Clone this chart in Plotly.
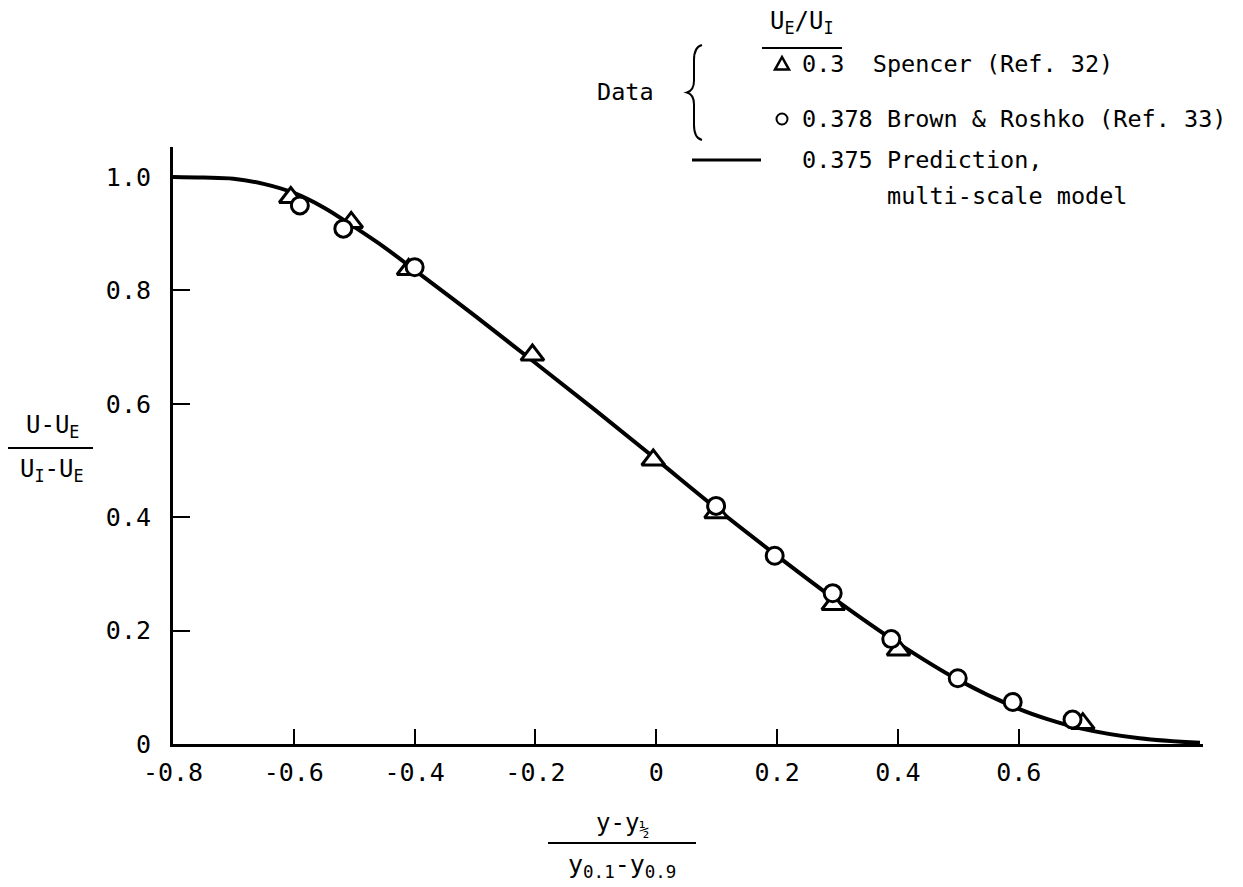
import plotly.graph_objects as go

# ---- data ----
curve_x = [-0.8, -0.75, -0.7, -0.65, -0.6, -0.55, -0.5, -0.45, -0.4, -0.3, -0.2, -0.1,
           0.0, 0.1, 0.2, 0.3, 0.4, 0.5, 0.6, 0.65, 0.7, 0.8, 0.9]
curve_y = [1.0, 0.999, 0.997, 0.988, 0.972, 0.946, 0.912, 0.876, 0.836, 0.755, 0.672, 0.588,
           0.502, 0.415, 0.332, 0.252, 0.178, 0.113, 0.062, 0.043, 0.028, 0.010, 0.002]

spencer_x = [-0.605, -0.505, -0.41, -0.205, -0.005, 0.099, 0.293, 0.401, 0.706]
spencer_y = [0.964, 0.920, 0.837, 0.686, 0.501, 0.408, 0.246, 0.166, 0.036]

brown_x = [-0.59, -0.518, -0.40, 0.099, 0.196, 0.292, 0.389, 0.499, 0.59, 0.689]
brown_y = [0.950, 0.909, 0.841, 0.420, 0.332, 0.266, 0.185, 0.116, 0.074, 0.043]

x_ticks = [-0.8, -0.6, -0.4, -0.2, 0.0, 0.2, 0.4, 0.6]
x_tick_text = ["-0.8", "-0.6", "-0.4", "-0.2", "0", "0.2", "0.4", "0.6"]
y_ticks = [0.0, 0.2, 0.4, 0.6, 0.8, 1.0]
y_tick_text = ["0", "0.2", "0.4", "0.6", "0.8", "1.0"]

# ---- layout geometry (pixels) ----
W, H = 1243, 887
L, R, T, B = 173, 40, 147, 143
PW, PH = W - L - R, H - T - B

def px(x):
    return (x - L) / PW

def py(y):
    return (H - B - y) / PH

FONT = "DejaVu Sans Mono"

fig = go.Figure()
fig.add_trace(go.Scatter(x=curve_x, y=curve_y, mode="lines",
                         line=dict(color="black", width=4, shape="spline", smoothing=1.0),
                         showlegend=False, hoverinfo="skip"))
fig.add_trace(go.Scatter(x=spencer_x, y=spencer_y, mode="markers",
                         marker=dict(symbol="triangle-up", size=20, color="white",
                                     line=dict(color="black", width=3)),
                         showlegend=False, cliponaxis=False))
fig.add_trace(go.Scatter(x=brown_x, y=brown_y, mode="markers",
                         marker=dict(symbol="circle", size=17, color="white",
                                     line=dict(color="black", width=3)),
                         showlegend=False, cliponaxis=False))

ann = []
shapes = []

def text(x, y, s, size=23.5, xanchor="left", yanchor="middle"):
    ann.append(dict(x=px(x), y=py(y), xref="paper", yref="paper", text=s,
                    showarrow=False, xanchor=xanchor, yanchor=yanchor,
                    font=dict(family=FONT, size=size, color="black")))

def hline(x0, x1, y, w=2):
    shapes.append(dict(type="line", xref="paper", yref="paper",
                       x0=px(x0), x1=px(x1), y0=py(y), y1=py(y),
                       line=dict(color="black", width=w)))

# y-axis title (fraction)
text(52, 426, "U-U<sub>E</sub>", size=24, xanchor="center")
hline(8, 93, 448)
text(52, 470, "U<sub>I</sub>-U<sub>E</sub>", size=24, xanchor="center")

# x-axis title (fraction)
text(622, 824, "y-y<sub>½</sub>", size=24, xanchor="center")
hline(548, 696, 843)
text(622, 866, "y<sub>0.1</sub>-y<sub>0.9</sub>", size=25, xanchor="center")

# legend
text(802, 22, "U<sub>E</sub>/U<sub>I</sub>", size=24, xanchor="center")
hline(762, 842, 48)
text(625, 92, "Data", xanchor="center")
# brace
bx, by0, by1 = 694, 45, 140
bm = (by0 + by1) / 2
path = (f"M {px(bx+8)},{py(by0)} Q {px(bx)},{py(by0+2)} {px(bx)},{py(by0+15)} "
        f"L {px(bx)},{py(bm-12)} Q {px(bx)},{py(bm-2)} {px(bx-7)},{py(bm)} "
        f"Q {px(bx)},{py(bm+2)} {px(bx)},{py(bm+12)} "
        f"L {px(bx)},{py(by1-15)} Q {px(bx)},{py(by1-2)} {px(bx+8)},{py(by1)}")
shapes.append(dict(type="path", xref="paper", yref="paper", path=path,
                   line=dict(color="black", width=2)))
# triangle symbol
tx, ty, ts = 782, 64, 7
shapes.append(dict(type="path", xref="paper", yref="paper",
                   path=f"M {px(tx-ts)},{py(ty+ts*0.8)} L {px(tx+ts)},{py(ty+ts*0.8)} L {px(tx)},{py(ty-ts)} Z",
                   line=dict(color="black", width=2.5)))
text(800, 64, "0.3  Spencer (Ref. 32)")
# circle symbol
cx, cy, cr = 782, 119, 5.5
shapes.append(dict(type="circle", xref="paper", yref="paper",
                   x0=px(cx-cr), x1=px(cx+cr), y0=py(cy+cr), y1=py(cy-cr),
                   line=dict(color="black", width=2)))
text(800, 119, "0.378 Brown & Roshko (Ref. 33)")
# line symbol
hline(692, 761, 160, w=3)
text(800, 160, "0.375 Prediction,")
text(885, 196, "multi-scale model")

axis_common = dict(showgrid=False, zeroline=False, showline=True, linecolor="black",
                   linewidth=3, ticks="inside", tickcolor="black", tickwidth=2,
                   tickfont=dict(family=FONT, size=25, color="black"))

fig.update_layout(
    width=W, height=H, margin=dict(l=L, r=R, t=T, b=B, pad=0),
    plot_bgcolor="white", paper_bgcolor="white",
    xaxis=dict(range=[-0.8, 0.905], tickvals=x_ticks, ticktext=x_tick_text,
               ticklen=15, ticklabelstandoff=4, **axis_common),
    yaxis=dict(range=[0, 1.053], tickvals=y_ticks, ticktext=y_tick_text,
               ticklen=17, ticklabelstandoff=14, **axis_common),
    annotations=ann, shapes=shapes, showlegend=False,
)

fig.write_html("out.html")
